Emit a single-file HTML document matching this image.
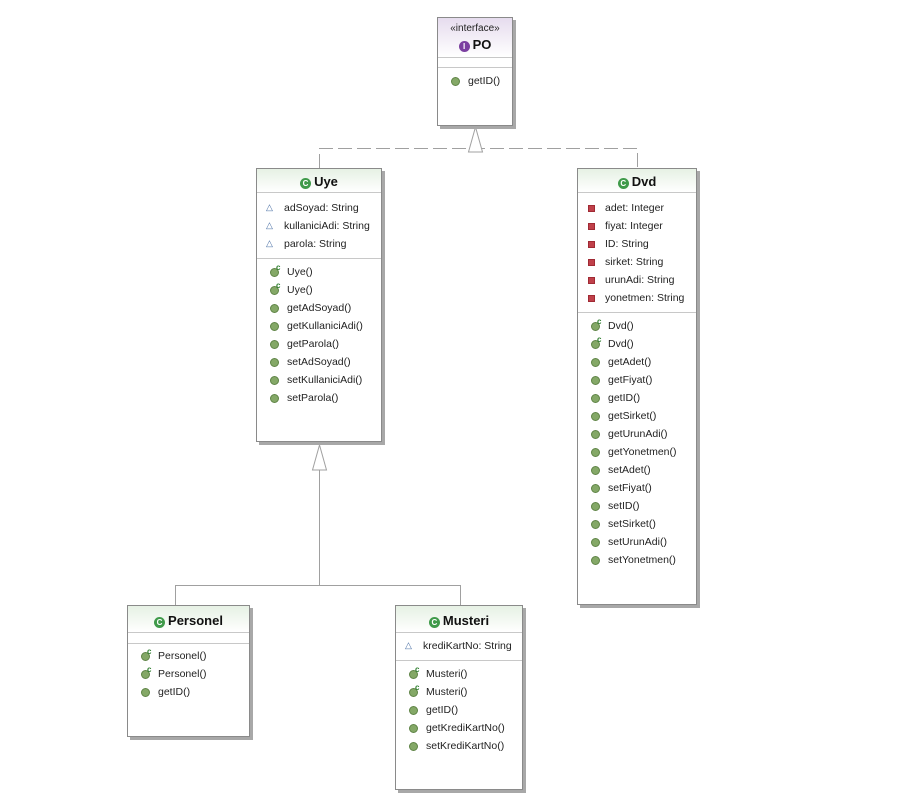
<!DOCTYPE html>
<html><head><meta charset="utf-8">
<style>
body{margin:0;background:#fff;width:915px;height:796px;position:relative;overflow:hidden;font-family:"Liberation Sans",Arial,sans-serif;}
.box{position:absolute;background:#fff;border:1px solid #8a8a8a;box-shadow:3px 3px 0 #a8a8a8;}
.hd{position:absolute;left:0;right:0;top:0;background:linear-gradient(#e6f1e4,#fff);border-bottom:1px solid #c8c8c8;}
.ihd{background:linear-gradient(#e6dcee,#fff);}
.ttl{position:absolute;left:0;right:0;text-align:center;font-weight:bold;font-size:13px;color:#111;}
.ci{display:inline-block;width:11px;height:11px;border-radius:50%;background:#3f9a4a;color:#fff;font-size:8px;line-height:11px;text-align:center;vertical-align:0px;margin-right:3px;font-weight:bold;}
.sep{position:absolute;left:0;right:0;height:0;border-top:1px solid #c8c8c8;}
.r{position:absolute;height:16px;line-height:16px;font-size:10.5px;color:#222;white-space:nowrap;}
.m,.k{position:absolute;left:-17px;top:4px;width:7px;height:7px;border-radius:50%;background:#84a867;border:1px solid #5f8446;}
.k:after{content:"c";position:absolute;left:5px;top:-5px;font-size:8px;font-weight:bold;color:#2f7f2f;line-height:8px;}
.a{position:absolute;left:-18px;top:-1px;font-size:9px;color:#4a6fa5;}
.p{position:absolute;left:-17px;top:5px;width:5px;height:5px;background:#c0404a;border:1px solid #a02a34;}
</style></head><body>
<svg width="915" height="796" style="position:absolute;left:0;top:0">
<g fill="none" stroke="#a0a0a0" stroke-width="1">
<path d="M319.5 168 V148.5 H637.5 V168" stroke-dasharray="14,5"/>
<path d="M475.5 152 V148"/>
<path d="M475.5 127 L468.5 152 H482.5 Z" fill="#fff"/>
<path d="M319.5 470 V585.5 M175.5 605 V585.5 H460.5 V605"/>
<path d="M319.5 445 L312.5 470 H326.5 Z" fill="#fff"/>
</g></svg>

<!-- PO -->
<div class="box" style="left:437px;top:17px;width:74px;height:107px;">
<div class="hd ihd" style="height:39px;"></div>
<div style="position:absolute;left:0;right:0;top:5px;text-align:center;font-size:10px;color:#222;">«interface»</div>
<div class="ttl" style="top:19px;"><span class="ci" style="background:#7b3fa0">I</span>PO</div>
<div class="sep" style="top:49px"></div>
<div class="r" style="left:30px;top:55px"><span class="m"></span>getID()</div>
</div>

<!-- Uye -->
<div class="box" style="left:256px;top:168px;width:124px;height:272px;">
<div class="hd" style="height:23px;"></div>
<div class="ttl" style="top:5px;"><span class="ci">C</span>Uye</div>
<div class="r" style="left:27px;top:31px"><span class="a">△</span>adSoyad: String</div>
<div class="r" style="left:27px;top:49px"><span class="a">△</span>kullaniciAdi: String</div>
<div class="r" style="left:27px;top:67px"><span class="a">△</span>parola: String</div>
<div class="sep" style="top:89px"></div>
<div class="r" style="left:30px;top:95px"><span class="k"></span>Uye()</div>
<div class="r" style="left:30px;top:113px"><span class="k"></span>Uye()</div>
<div class="r" style="left:30px;top:131px"><span class="m"></span>getAdSoyad()</div>
<div class="r" style="left:30px;top:149px"><span class="m"></span>getKullaniciAdi()</div>
<div class="r" style="left:30px;top:167px"><span class="m"></span>getParola()</div>
<div class="r" style="left:30px;top:185px"><span class="m"></span>setAdSoyad()</div>
<div class="r" style="left:30px;top:203px"><span class="m"></span>setKullaniciAdi()</div>
<div class="r" style="left:30px;top:221px"><span class="m"></span>setParola()</div>
</div>

<!-- Dvd -->
<div class="box" style="left:577px;top:168px;width:118px;height:435px;">
<div class="hd" style="height:23px;"></div>
<div class="ttl" style="top:5px;"><span class="ci">C</span>Dvd</div>
<div class="r" style="left:27px;top:31px"><span class="p"></span>adet: Integer</div>
<div class="r" style="left:27px;top:49px"><span class="p"></span>fiyat: Integer</div>
<div class="r" style="left:27px;top:67px"><span class="p"></span>ID: String</div>
<div class="r" style="left:27px;top:85px"><span class="p"></span>sirket: String</div>
<div class="r" style="left:27px;top:103px"><span class="p"></span>urunAdi: String</div>
<div class="r" style="left:27px;top:121px"><span class="p"></span>yonetmen: String</div>
<div class="sep" style="top:143px"></div>
<div class="r" style="left:30px;top:149px"><span class="k"></span>Dvd()</div>
<div class="r" style="left:30px;top:167px"><span class="k"></span>Dvd()</div>
<div class="r" style="left:30px;top:185px"><span class="m"></span>getAdet()</div>
<div class="r" style="left:30px;top:203px"><span class="m"></span>getFiyat()</div>
<div class="r" style="left:30px;top:221px"><span class="m"></span>getID()</div>
<div class="r" style="left:30px;top:239px"><span class="m"></span>getSirket()</div>
<div class="r" style="left:30px;top:257px"><span class="m"></span>getUrunAdi()</div>
<div class="r" style="left:30px;top:275px"><span class="m"></span>getYonetmen()</div>
<div class="r" style="left:30px;top:293px"><span class="m"></span>setAdet()</div>
<div class="r" style="left:30px;top:311px"><span class="m"></span>setFiyat()</div>
<div class="r" style="left:30px;top:329px"><span class="m"></span>setID()</div>
<div class="r" style="left:30px;top:347px"><span class="m"></span>setSirket()</div>
<div class="r" style="left:30px;top:365px"><span class="m"></span>setUrunAdi()</div>
<div class="r" style="left:30px;top:383px"><span class="m"></span>setYonetmen()</div>
</div>

<!-- Personel -->
<div class="box" style="left:127px;top:605px;width:121px;height:130px;">
<div class="hd" style="height:26px;"></div>
<div class="ttl" style="top:7px;"><span class="ci">C</span>Personel</div>
<div class="sep" style="top:37px"></div>
<div class="r" style="left:30px;top:42px"><span class="k"></span>Personel()</div>
<div class="r" style="left:30px;top:60px"><span class="k"></span>Personel()</div>
<div class="r" style="left:30px;top:78px"><span class="m"></span>getID()</div>
</div>

<!-- Musteri -->
<div class="box" style="left:395px;top:605px;width:126px;height:183px;">
<div class="hd" style="height:26px;"></div>
<div class="ttl" style="top:7px;"><span class="ci">C</span>Musteri</div>
<div class="r" style="left:27px;top:32px"><span class="a">△</span>krediKartNo: String</div>
<div class="sep" style="top:54px"></div>
<div class="r" style="left:30px;top:60px"><span class="k"></span>Musteri()</div>
<div class="r" style="left:30px;top:78px"><span class="k"></span>Musteri()</div>
<div class="r" style="left:30px;top:96px"><span class="m"></span>getID()</div>
<div class="r" style="left:30px;top:114px"><span class="m"></span>getKrediKartNo()</div>
<div class="r" style="left:30px;top:132px"><span class="m"></span>setKrediKartNo()</div>
</div>
</body></html>
